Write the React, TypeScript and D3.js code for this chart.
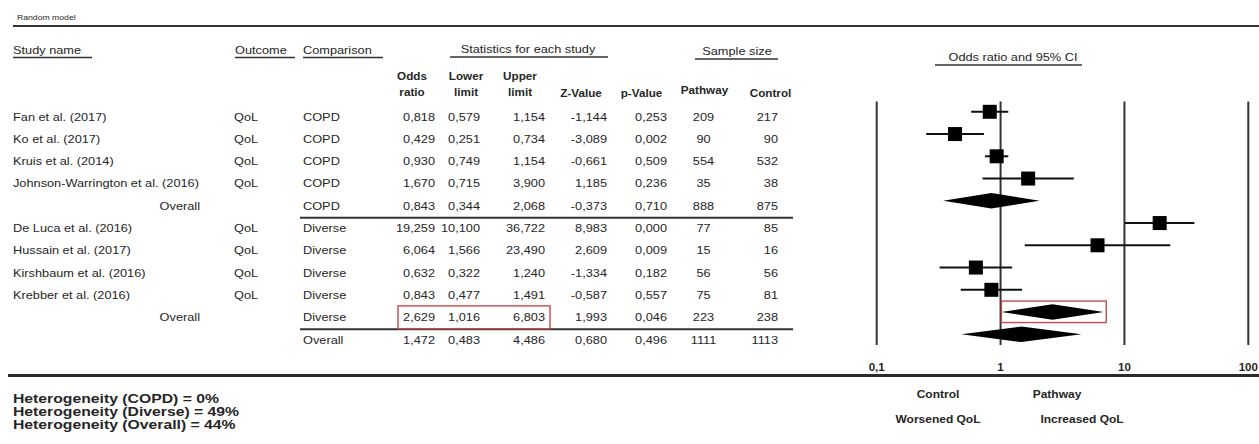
import React from "react";
import * as d3 from "d3";

// ---------- data ----------
const studyNames = [
  "Fan et al. (2017)",
  "Ko et al. (2017)",
  "Kruis et al. (2014)",
  "Johnson-Warrington et al. (2016)",
  "Overall",
  "De Luca et al. (2016)",
  "Hussain et al. (2017)",
  "Kirshbaum et al. (2016)",
  "Krebber et al. (2016)",
  "Overall",
  "",
];
const outcomes = ["QoL", "QoL", "QoL", "QoL", "", "QoL", "QoL", "QoL", "QoL", "", ""];
const comparisons = ["COPD", "COPD", "COPD", "COPD", "COPD", "Diverse", "Diverse", "Diverse", "Diverse", "Diverse", "Overall"];
const rowTypes = ["study", "study", "study", "study", "subgroup", "study", "study", "study", "study", "subgroup", "total"];
const oddsRatios = [0.818, 0.429, 0.93, 1.67, 0.843, 19.259, 6.064, 0.632, 0.843, 2.629, 1.472];
const lowerLimits = [0.579, 0.251, 0.749, 0.715, 0.344, 10.1, 1.566, 0.322, 0.477, 1.016, 0.483];
const upperLimits = [1.154, 0.734, 1.154, 3.9, 2.068, 36.722, 23.49, 1.24, 1.491, 6.803, 4.486];
const zValues = [-1.144, -3.089, -0.661, 1.185, -0.373, 8.983, 2.609, -1.334, -0.587, 1.993, 0.68];
const pValues = [0.253, 0.002, 0.509, 0.236, 0.71, 0.0, 0.009, 0.182, 0.557, 0.046, 0.496];
const pathwayN = [209, 90, 554, 35, 888, 77, 15, 56, 75, 223, 1111];
const controlN = [217, 90, 532, 38, 875, 85, 16, 56, 81, 238, 1113];
const highlightRow = 9;

const axisTicks = [0.1, 1, 10, 100];
const tickLabels = ["0,1", "1", "10", "100"];
const heterogeneityLines = [
  "Heterogeneity (COPD) = 0%",
  "Heterogeneity (Diverse) = 49%",
  "Heterogeneity (Overall) = 44%",
];

// ---------- helpers ----------
const locale = d3.formatLocale({ decimal: ",", thousands: ".", grouping: [3], currency: ["", ""], minus: "-" });
const f3 = locale.format(".3f");

const TXT = "#262626";
const LINE = "#333";

type TP = { x: number; y: number; anchor?: string; fs?: number; bold?: boolean; sx?: number; children: any };
const T = ({ x, y, anchor = "start", fs = 10.9, bold = false, sx = 1.17, children }: TP) => (
  <text
    transform={`translate(${x},${y}) scale(${sx},1)`}
    textAnchor={anchor}
    fontSize={fs}
    fontWeight={bold ? "bold" : "normal"}
    fill={TXT}
  >
    {children}
  </text>
);

export default function App() {
  const n = studyNames.length;
  const rowText = d3.scaleLinear().domain([0, n - 1]).range([120.5, 343.7]);
  const rowPlot = d3.scaleLinear().domain([0, n - 1]).range([111.8, 334.3]);
  const x = d3.scaleLog().domain([0.1, 100]).range([876.7, 1248.3]);

  const sq = 14;
  const dh = 7.8;

  const colOR = 435, colLo = 480, colUp = 545, colZ = 607, colP = 667, colPw = 703.5, colCt = 778;

  return (
    <div style={{ position: "absolute", left: 0, top: 0, width: 1259, height: 444, background: "#fff" }}>
      <svg
        width={1259}
        height={444}
        style={{ display: "block", position: "absolute", left: 0, top: 0 }}
        fontFamily="'Liberation Sans', Arial, Helvetica, sans-serif"
      >
        <rect x={0} y={0} width={1259} height={444} fill="#fff" />

        {/* title */}
        <T x={17} y={19.5} fs={7.4}>Random model</T>
        <path d="M13,26 H1259" stroke={LINE} strokeWidth={2} fill="none" />

        {/* group headers */}
        <T x={13} y={54}>Study name</T>
        <line x1={13} x2={92} y1={57.5} y2={57.5} stroke={LINE} strokeWidth={1.6} />
        <T x={235} y={54}>Outcome</T>
        <line x1={235} x2={295} y1={57.5} y2={57.5} stroke={LINE} strokeWidth={1.6} />
        <T x={303} y={54}>Comparison</T>
        <line x1={303} x2={383} y1={57.5} y2={57.5} stroke={LINE} strokeWidth={1.6} />
        <T x={528} y={53} anchor="middle">Statistics for each study</T>
        <line x1={450} x2={608} y1={57} y2={57} stroke={LINE} strokeWidth={1.6} />
        <T x={737} y={55} anchor="middle">Sample size</T>
        <line x1={695} x2={778} y1={59} y2={59} stroke={LINE} strokeWidth={1.6} />
        <T x={1013} y={61} anchor="middle">Odds ratio and 95% CI</T>
        <line x1={935} x2={1082} y1={65} y2={65} stroke={LINE} strokeWidth={1.6} />

        {/* column headers */}
        <T x={412} y={80} anchor="middle" fs={10} bold>Odds</T>
        <T x={412} y={96} anchor="middle" fs={10} bold>ratio</T>
        <T x={466} y={80} anchor="middle" fs={10} bold>Lower</T>
        <T x={466} y={96} anchor="middle" fs={10} bold>limit</T>
        <T x={520} y={80} anchor="middle" fs={10} bold>Upper</T>
        <T x={520} y={96} anchor="middle" fs={10} bold>limit</T>
        <T x={581} y={96.5} anchor="middle" fs={10} bold>Z-Value</T>
        <T x={641.5} y={96.5} anchor="middle" fs={10} bold>p-Value</T>
        <T x={704.5} y={94} anchor="middle" fs={10} bold>Pathway</T>
        <T x={770.5} y={96.7} anchor="middle" fs={10} bold>Control</T>

        {/* table rows */}
        {studyNames.map((name, i) => {
          const y = rowText(i);
          const t = rowTypes[i];
          return (
            <g key={"r" + i}>
              {t === "study" && <T x={13} y={y}>{name}</T>}
              {t === "subgroup" && <T x={200} y={y} anchor="end">{name}</T>}
              <T x={234} y={y}>{outcomes[i]}</T>
              <T x={303} y={y}>{comparisons[i]}</T>
              <T x={colOR} y={y} anchor="end">{f3(oddsRatios[i])}</T>
              <T x={colLo} y={y} anchor="end">{f3(lowerLimits[i])}</T>
              <T x={colUp} y={y} anchor="end">{f3(upperLimits[i])}</T>
              <T x={colZ} y={y} anchor="end">{f3(zValues[i])}</T>
              <T x={colP} y={y} anchor="end">{f3(pValues[i])}</T>
              <T x={colPw} y={y} anchor="middle">{String(pathwayN[i])}</T>
              <T x={colCt} y={y} anchor="end">{String(controlN[i])}</T>
              {t === "subgroup" && (
                <line
                  x1={300}
                  x2={793}
                  y1={(rowText(i) + rowText(i + 1)) / 2 - 3.3}
                  y2={(rowText(i) + rowText(i + 1)) / 2 - 3.3}
                  stroke={LINE}
                  strokeWidth={2}
                />
              )}
            </g>
          );
        })}

        {/* highlight box in table */}
        <rect
          x={398}
          y={rowText(highlightRow) - 15.5}
          width={152}
          height={23}
          fill="none"
          stroke="#c9484a"
          strokeWidth={1.4}
        />

        {/* forest plot: vertical reference lines */}
        {axisTicks.map((v, i) => (
          <g key={"t" + i}>
            <line x1={x(v)} x2={x(v)} y1={101.5} y2={345} stroke={LINE} strokeWidth={2} />
            <T x={x(v)} y={371} anchor="middle" fs={10.3} bold sx={1.12}>{tickLabels[i]}</T>
          </g>
        ))}

        {/* forest marks */}
        {oddsRatios.map((or, i) => {
          const cy = rowPlot(i);
          const t = rowTypes[i];
          if (t === "study") {
            return (
              <g key={"m" + i}>
                <line x1={x(lowerLimits[i])} x2={x(upperLimits[i])} y1={cy} y2={cy} stroke="#111" strokeWidth={2} />
                <rect x={x(or) - sq / 2} y={cy - sq / 2} width={sq} height={sq} fill="#000" />
              </g>
            );
          }
          const pts = [
            [x(lowerLimits[i]), cy],
            [x(or), cy - dh],
            [x(upperLimits[i]), cy],
            [x(or), cy + dh],
          ];
          return <polygon key={"m" + i} points={pts.map((p) => p.join(",")).join(" ")} fill="#000" />;
        })}

        {/* highlight box in plot */}
        <rect
          x={x(lowerLimits[highlightRow])}
          y={rowPlot(highlightRow) - 11}
          width={x(upperLimits[highlightRow]) - x(lowerLimits[highlightRow]) + 2.5}
          height={21.5}
          fill="none"
          stroke="#c9484a"
          strokeWidth={1.4}
        />

        {/* bottom rule */}
        <line x1={8} x2={1259} y1={375.5} y2={375.5} stroke="#2b2b2b" strokeWidth={3} />

        {/* heterogeneity */}
        {heterogeneityLines.map((s, i) => (
          <T key={"h" + i} x={13} y={403 + i * 13} fs={12.6} bold sx={1.25}>{s}</T>
        ))}

        {/* direction labels */}
        <T x={938} y={397.5} anchor="middle" fs={10} bold sx={1.2}>Control</T>
        <T x={1057} y={397.5} anchor="middle" fs={10} bold sx={1.2}>Pathway</T>
        <T x={938} y={422.5} anchor="middle" fs={10} bold sx={1.2}>Worsened QoL</T>
        <T x={1082} y={422.5} anchor="middle" fs={10} bold sx={1.2}>Increased QoL</T>
      </svg>
      <div
        style={{ position: "absolute", left: 8, top: 374, width: 1251, height: 3, background: "#2b2b2b" }}
      />
    </div>
  );
}
